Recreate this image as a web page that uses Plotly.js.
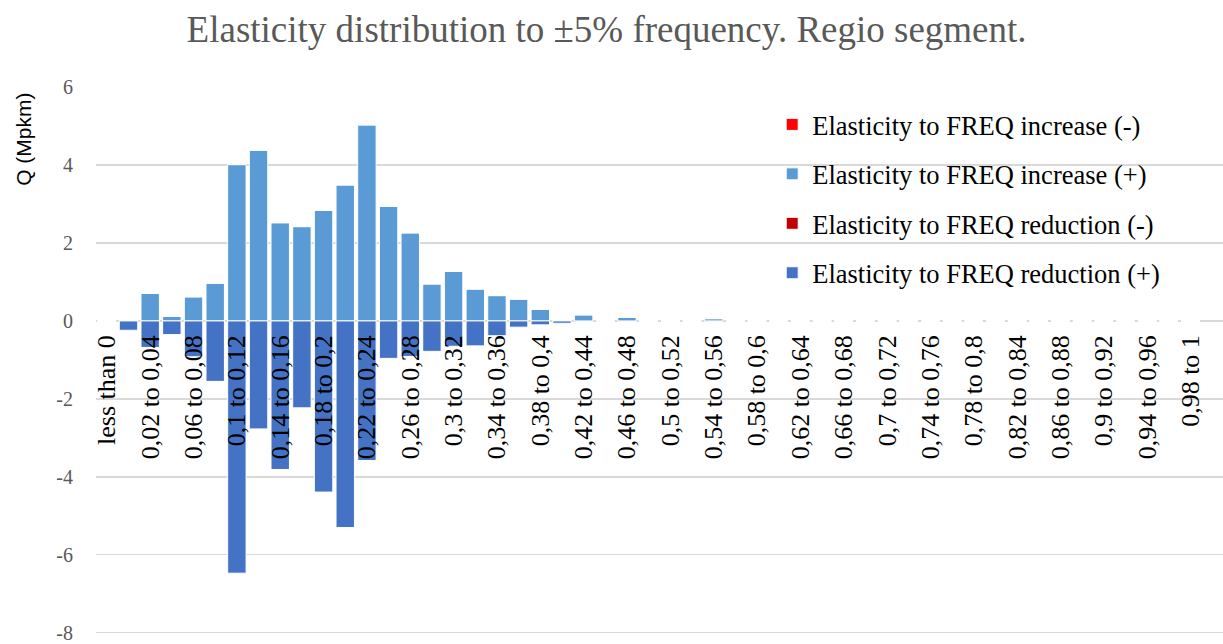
<!DOCTYPE html>
<html>
<head>
<meta charset="utf-8">
<script src="https://cdn.plot.ly/plotly-3.0.1.min.js"></script>
<style>html,body{margin:0;padding:0;background:#fff;}#chart{width:1223px;height:644px;}</style>
</head>
<body>
<div id="chart"></div>
<script>
const categories = ["less than 0","0 to 0,02","0,02 to 0,04","0,04 to 0,06","0,06 to 0,08","0,08 to 0,1","0,1 to 0,12","0,12 to 0,14","0,14 to 0,16","0,16 to 0,18","0,18 to 0,2","0,2 to 0,22","0,22 to 0,24","0,24 to 0,26","0,26 to 0,28","0,28 to 0,3","0,3 to 0,32","0,32 to 0,34","0,34 to 0,36","0,36 to 0,38","0,38 to 0,4","0,4 to 0,42","0,42 to 0,44","0,44 to 0,46","0,46 to 0,48","0,48 to 0,5","0,5 to 0,52","0,52 to 0,54","0,54 to 0,56","0,56 to 0,58","0,58 to 0,6","0,6 to 0,62","0,62 to 0,64","0,64 to 0,66","0,66 to 0,68","0,68 to 0,7","0,7 to 0,72","0,72 to 0,74","0,74 to 0,76","0,76 to 0,78","0,78 to 0,8","0,8 to 0,82","0,82 to 0,84","0,84 to 0,86","0,86 to 0,88","0,88 to 0,9","0,9 to 0,92","0,92 to 0,94","0,94 to 0,96","0,96 to 0,98","0,98 to 1"];

const increaseNeg = [0,0,0,0,0,0,0,0,0,0,0,0,0,0,0,0,0,0,0,0,0,0,0,0,0,0,0,0,0,0,0,0,0,0,0,0,0,0,0,0,0,0,0,0,0,0,0,0,0,0,0];
const increasePos = [0,0,0.71,0.12,0.62,0.97,4.01,4.38,2.52,2.42,2.84,3.49,5.03,2.94,2.26,0.95,1.27,0.82,0.65,0.56,0.30,0,0.16,0,0.09,0,0,0,0.06,0,0,0,0,0,0,0,0,0,0,0,0,0,0,0,0,0,0,0,0,0,0];
const reductionNeg = [0,0,0,0,0,0,0,0,0,0,0,0,0,0,0,0,0,0,0,0,0,0,0,0,0,0,0,0,0,0,0,0,0,0,0,0,0,0,0,0,0,0,0,0,0,0,0,0,0,0,0];
const reductionPos = [0,-0.24,-0.68,-0.35,-0.92,-1.55,-6.47,-2.77,-3.81,-2.23,-4.39,-5.30,-3.58,-0.96,-0.91,-0.78,-0.65,-0.64,-0.38,-0.16,-0.10,-0.06,0,0,0,0,0,0,0,0,0,0,0,0,0,0,0,0,0,0,0,0,0,0,0,0,0,0,0,0,0];

const seriesNames = ["Elasticity to FREQ increase (-)","Elasticity to FREQ increase (+)","Elasticity to FREQ reduction (-)","Elasticity to FREQ reduction (+)"];
const seriesColors = ["#FF0000","#5B9BD5","#C00000","#4472C4"];
const seriesValues = [increaseNeg, increasePos, reductionNeg, reductionPos];

const yTickVals = [-8,-6,-4,-2,0,2,4,6];
const yTickText = ["-8","-6","-4","-2","0","2","4","6"];

const tickCats = categories.filter((c, i) => i % 2 === 0);

const serif = "Liberation Serif, Times New Roman, serif";
const sans = "Liberation Sans, Arial, sans-serif";

const traces = seriesValues.map((vals, k) => ({
  type: "bar",
  x: categories,
  y: vals,
  name: seriesNames[k],
  legendgroup: "g" + k,
  marker: {color: seriesColors[k], line: {color: "#ffffff", width: 1}},
  hoverinfo: "x+y+name"
}));

const layout = {
  width: 1223, height: 644,
  margin: {l: 96, r: 0, t: 87, b: 10},
  paper_bgcolor: "#ffffff", plot_bgcolor: "#ffffff",
  barmode: "relative",
  bargap: 0.15,
  title: {text: "Elasticity distribution to ±5% frequency. Regio segment.", font: {family: serif, size: 37, color: "#595959"}, x: 0.496, xanchor: "center", y: 0.955, yanchor: "middle"},
  xaxis: {
    type: "category",
    range: [-0.5, 51.5],
    anchor: "free",
    position: 8.03/14.03,
    tickmode: "array",
    tickvals: tickCats,
    ticktext: tickCats,
    tickangle: -90,
    tickfont: {family: serif, size: 26, color: "#000000"},
    ticks: "",
    ticklabelstandoff: 8,
    showgrid: false,
    showline: false,
    zeroline: false
  },
  yaxis: {
    range: [-8.03, 6],
    tickmode: "array",
    tickvals: yTickVals,
    ticktext: yTickText,
    showgrid: true,
    gridcolor: "#d9d9d9",
    gridwidth: 1.3,
    zeroline: true,
    zerolinecolor: "#d9d9d9",
    zerolinewidth: 1.3,
    ticks: "",
    ticklabelstandoff: 22,
    ticklabeloverflow: "allow",
    tickfont: {family: serif, size: 20, color: "#595959"},
    showline: false
  },
  showlegend: true,
  legend: {
    x: 0.600, xanchor: "left", y: 0.975, yanchor: "top",
    font: {family: serif, size: 26.5, color: "#000000"},
    traceorder: "grouped",
    tracegroupgap: 12,
    bgcolor: "rgba(0,0,0,0)",
    itemwidth: 30
  },
  annotations: [{
    text: "Q (Mpkm)", textangle: -90,
    xref: "paper", yref: "paper",
    x: -0.064, y: 0.905, xanchor: "center", yanchor: "middle",
    showarrow: false,
    font: {family: sans, size: 21, color: "#000000"}
  }]
};

Plotly.newPlot("chart", traces, layout, {displayModeBar: false, staticPlot: true});
</script>
</body>
</html>
